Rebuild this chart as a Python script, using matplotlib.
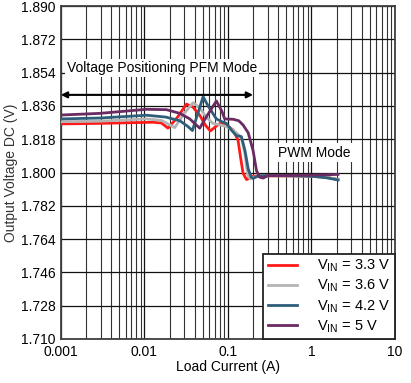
import numpy as np
import matplotlib
matplotlib.use('Agg')
import matplotlib.pyplot as plt
from matplotlib.ticker import LogLocator, FixedLocator, NullFormatter

matplotlib.rcParams['font.family'] = ['Liberation Sans', 'DejaVu Sans']
matplotlib.rcParams['mathtext.fontset'] = 'custom'
matplotlib.rcParams['mathtext.rm'] = 'Liberation Sans'
matplotlib.rcParams['mathtext.it'] = 'Liberation Sans'

# data (load current in A, output voltage in V)
i_33 = [0.001, 0.003, 0.0127, 0.016, 0.0192, 0.025, 0.0319, 0.038, 0.046, 0.054, 0.0617, 0.072, 0.0835, 0.1, 0.1155, 0.132, 0.142, 0.152, 0.167, 0.2, 0.3, 0.6, 1.0, 1.5, 2.08]
v_33 = [1.8263, 1.8266, 1.8272, 1.8268, 1.8240, 1.8300, 1.8370, 1.8355, 1.8310, 1.8255, 1.8225, 1.8250, 1.8270, 1.8250, 1.8230, 1.8176, 1.8080, 1.7996, 1.7962, 1.7980, 1.7982, 1.7981, 1.7980, 1.7975, 1.7962]

i_36 = [0.001, 0.003, 0.0106, 0.016, 0.0231, 0.030, 0.0383, 0.046, 0.055, 0.066, 0.080, 0.096, 0.110, 0.126, 0.145, 0.160, 0.172, 0.185, 0.2, 0.3, 0.6, 1.0, 1.5, 2.08]
v_36 = [1.8275, 1.8278, 1.8290, 1.8282, 1.8243, 1.8320, 1.8378, 1.8350, 1.8300, 1.8266, 1.8258, 1.8248, 1.8235, 1.8215, 1.8190, 1.8100, 1.7990, 1.7965, 1.7975, 1.7982, 1.7981, 1.7980, 1.7975, 1.7962]

i_42 = [0.001, 0.003, 0.0106, 0.018, 0.0266, 0.033, 0.0376, 0.043, 0.0505, 0.058, 0.0728, 0.085, 0.096, 0.110, 0.126, 0.145, 0.160, 0.175, 0.19, 0.2, 0.23, 0.3, 0.6, 1.0, 1.5, 2.08]
v_42 = [1.8290, 1.8295, 1.8310, 1.8300, 1.8280, 1.8250, 1.8227, 1.8310, 1.8410, 1.8360, 1.8290, 1.8275, 1.8266, 1.8230, 1.8200, 1.8194, 1.8120, 1.8020, 1.7975, 1.7968, 1.7982, 1.7984, 1.7983, 1.7980, 1.7972, 1.7960]

i_50 = [0.001, 0.00293, 0.0106, 0.0184, 0.0266, 0.035, 0.046, 0.055, 0.0728, 0.085, 0.0916, 0.1155, 0.135, 0.152, 0.175, 0.20, 0.22, 0.24, 0.264, 0.3, 0.6, 1.0, 1.5, 2.08]
v_50 = [1.8311, 1.8320, 1.8342, 1.8340, 1.8320, 1.8290, 1.8240, 1.8300, 1.8387, 1.8330, 1.8290, 1.8288, 1.8280, 1.8257, 1.8215, 1.8120, 1.8010, 1.7975, 1.7970, 1.7983, 1.7985, 1.7986, 1.7988, 1.7990]

series = [(i_33, v_33, '#FF1A1A', r'V$_{\mathrm{IN}}$ = 3.3 V'),
          (i_36, v_36, '#B4B4B4', r'V$_{\mathrm{IN}}$ = 3.6 V'),
          (i_42, v_42, '#2E5E7A', r'V$_{\mathrm{IN}}$ = 4.2 V'),
          (i_50, v_50, '#6A2A62', r'V$_{\mathrm{IN}}$ = 5 V')]

y_ticks = [1.710, 1.728, 1.746, 1.764, 1.782, 1.800, 1.818, 1.836, 1.854, 1.872, 1.890]
x_ticks = [0.001, 0.01, 0.1, 1, 10]
x_labels = ['0.001', '0.01', '0.1', '1', '10']

fig = plt.figure(figsize=(4.11, 3.83), dpi=100)
ax = fig.add_axes([0.148, 0.115, 0.813, 0.869])

for cur, volt, col, lab in series:
    ax.plot(cur, volt, color=col, linewidth=2.0, label=lab, zorder=3)

ax.set_xscale('log')
ax.set_xlim(0.001, 10)
ax.set_ylim(1.710, 1.890)
ax.xaxis.set_major_locator(FixedLocator(x_ticks))
ax.set_xticklabels(x_labels)
ax.xaxis.set_minor_locator(LogLocator(base=10, subs=np.arange(2, 10), numticks=20))
ax.xaxis.set_minor_formatter(NullFormatter())
ax.set_yticks(y_ticks)
ax.set_yticklabels(['%.3f' % v for v in y_ticks])
ax.tick_params(which='both', length=0, labelsize=10, pad=4)
ax.grid(which='major', color='#111111', linewidth=0.9)
ax.grid(which='minor', axis='x', color='#333333', linewidth=0.8)
ax.set_axisbelow(True)
for sp in ax.spines.values():
    sp.set_color('#404040')
    sp.set_linewidth(1.3)

ax.set_xlabel('Load Current (A)', fontsize=10, labelpad=1)
ax.set_ylabel('Output Voltage DC (V)', fontsize=10, labelpad=2, color='#333333')

# annotations
ax.annotate('', xy=(0.001, 1.842), xytext=(0.2, 1.842),
            arrowprops=dict(arrowstyle='<|-|>', color='black', lw=1.5,
                            mutation_scale=9, shrinkA=0, shrinkB=0), zorder=4)
ax.text(0.00118, 1.8565, 'Voltage Positioning PFM Mode', fontsize=10, va='center', ha='left',
        bbox=dict(facecolor='white', edgecolor='none', pad=1.5), zorder=4)
ax.text(0.40, 1.8108, 'PWM Mode', fontsize=10, va='center', ha='left',
        bbox=dict(facecolor='white', edgecolor='none', pad=1.5), zorder=4)

leg = ax.legend(loc='lower right', fontsize=10.5, fancybox=False, framealpha=1,
                edgecolor='#222222', borderaxespad=0, handlelength=2.0,
                handletextpad=1.4, labelspacing=0.25, borderpad=0.3)
leg.get_frame().set_linewidth(1.3)

fig.savefig('out.png', dpi=100)
